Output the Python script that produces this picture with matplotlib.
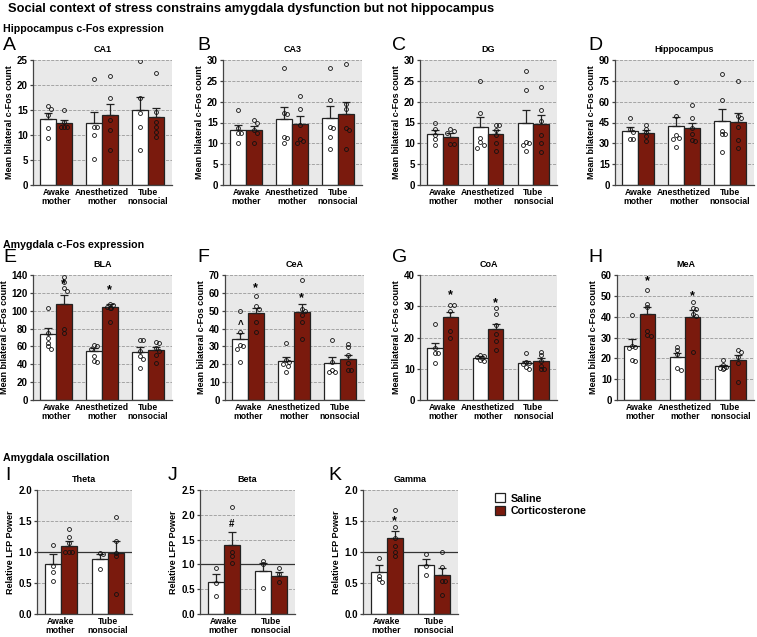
import matplotlib
matplotlib.use("Agg")
import matplotlib.pyplot as plt
from matplotlib.patches import Patch

plt.rcParams['font.family'] = ['Liberation Sans', 'DejaVu Sans']

W, H = 757, 637

# Gruppen / Beschriftungen
groups3 = ["Awake\nmother", "Anesthetized\nmother", "Tube\nnonsocial"]
groups2 = ["Awake\nmother", "Tube\nnonsocial"]
series_names = ["Saline", "Corticosterone"]
series_colors = ["white", "#7a1a0d"]

# order per group: saline, corticosterone
ca1_mean = [13.3, 12.5, 12.5, 14.1, 15.1, 13.6]
ca1_sem = [1.2, 0.6, 2.1, 2.1, 2.5, 1.9]
ca1_pts = [[15.8, 15.2, 14.0, 11.5, 9.5], [15.0, 12.6, 11.6, 11.6, 11.6],
           [21.2, 11.7, 11.7, 10.0, 5.3], [21.9, 17.5, 13.0, 11.0, 7.0],
           [24.9, 17.5, 14.5, 11.7, 7.0], [22.5, 14.7, 12.7, 11.7, 10.6, 9.7]]

ca3_mean = [13.2, 13.2, 15.9, 14.7, 16.0, 17.1]
ca3_sem = [1.2, 1.0, 2.7, 1.8, 2.9, 2.9]
ca3_pts = [[18.0, 13.6, 12.4, 12.4, 10.0], [15.5, 15.0, 13.2, 12.5, 10.0],
           [28.0, 17.4, 17.0, 11.6, 11.2, 10.0], [21.3, 18.3, 14.4, 11.0, 10.6, 10.2],
           [28.0, 20.3, 14.0, 13.8, 11.6, 8.7], [29.0, 19.4, 18.3, 13.8, 13.3, 8.7]]

dg_mean = [12.2, 11.6, 14.0, 12.2, 14.9, 14.6]
dg_sem = [1.0, 0.8, 2.4, 1.0, 3.2, 2.2]
dg_pts = [[15.0, 13.4, 12.0, 11.0, 9.6], [13.4, 12.9, 12.5, 9.8, 9.8],
          [25.0, 17.4, 11.2, 10.4, 9.7, 9.0], [14.5, 14.3, 13.1, 12.0, 10.2, 8.2],
          [27.3, 22.7, 10.4, 10.0, 9.6, 8.1], [23.5, 18.0, 15.4, 12.0, 10.0, 8.0]]

hip_mean = [38.6, 37.5, 42.4, 40.8, 46.0, 45.3]
hip_sem = [3.0, 2.1, 6.6, 4.2, 8.5, 6.7]
hip_pts = [[48.0, 40.0, 38.5, 33.0, 33.0], [43.5, 40.5, 38.0, 35.0, 32.0],
           [74.5, 49.5, 36.0, 34.0, 33.0, 27.6], [57.5, 48.0, 41.0, 37.0, 32.5, 32.0],
           [80.0, 61.0, 39.0, 36.5, 36.5, 23.5], [75.0, 50.0, 48.0, 42.0, 32.5, 27.0]]

bla_mean = [74.0, 107.0, 54.5, 104.0, 53.5, 56.0]
bla_sem = [6.5, 10.5, 3.5, 3.0, 5.5, 3.0]
bla_pts = [[103.5, 75.0, 70.0, 64.0, 60.0, 57.0], [138.0, 132.0, 125.0, 122.0, 80.0, 75.5],
           [62.0, 60.0, 57.0, 49.0, 44.0, 42.5], [108.0, 106.0, 104.5, 103.5, 103.0, 87.0],
           [67.0, 67.0, 55.0, 49.0, 46.0, 36.0], [65.0, 63.5, 58.0, 55.0, 50.0, 42.0]]

cea_mean = [34.0, 49.0, 22.0, 49.5, 21.0, 22.8]
cea_sem = [3.5, 2.5, 2.3, 4.0, 3.3, 2.2]
cea_pts = [[50.0, 38.0, 31.0, 30.0, 28.5, 21.5], [58.5, 52.5, 51.0, 43.5, 38.0],
           [32.0, 22.5, 21.5, 20.0, 19.0, 15.5], [67.0, 51.0, 50.0, 47.5, 43.5, 34.0],
           [33.5, 21.5, 17.0, 15.5, 15.5], [31.5, 29.5, 25.0, 20.5, 17.0, 17.0]]

coa_mean = [16.7, 26.5, 13.5, 22.7, 11.8, 12.4]
coa_sem = [1.6, 1.8, 0.5, 1.7, 0.8, 1.0]
coa_pts = [[24.3, 16.8, 15.2, 15.0, 12.0], [30.5, 30.5, 28.5, 22.0, 20.0],
           [14.5, 14.0, 13.8, 13.5, 12.8, 12.5], [29.3, 27.5, 24.0, 21.0, 19.0, 16.0],
           [15.0, 12.3, 12.0, 11.5, 10.5, 10.0], [15.5, 14.5, 12.5, 11.0, 10.0, 10.0]]

mea_mean = [26.0, 41.3, 20.8, 40.0, 16.1, 19.0]
mea_sem = [3.2, 3.2, 1.6, 3.0, 0.9, 2.4]
mea_pts = [[41.0, 26.0, 25.5, 25.0, 19.0, 18.5], [53.0, 46.0, 44.5, 33.0, 31.0, 30.5],
           [25.5, 24.0, 22.0, 15.5, 14.3], [47.0, 44.0, 43.5, 41.5, 40.5, 23.0],
           [19.4, 17.0, 16.0, 15.5, 15.3, 15.0], [24.0, 23.0, 20.5, 18.0, 8.7]]

theta_mean = [0.80, 1.10, 0.89, 0.98]
theta_sem = [0.17, 0.07, 0.08, 0.20]
theta_pts = [[1.12, 0.77, 0.68, 0.54], [1.37, 1.25, 1.15, 1.0, 1.0, 1.0],
             [0.99, 0.96, 0.72], [1.56, 1.18, 0.99, 0.93, 0.32]]

beta_mean = [0.65, 1.40, 0.87, 0.76]
beta_sem = [0.16, 0.25, 0.15, 0.09]
beta_pts = [[0.92, 0.62, 0.37], [2.15, 1.25, 1.17, 1.02],
            [1.07, 1.0, 0.52], [0.92, 0.80, 0.65]]

gamma_mean = [0.68, 1.23, 0.79, 0.63]
gamma_sem = [0.11, 0.11, 0.09, 0.12]
gamma_pts = [[0.90, 0.62, 0.57, 0.52], [1.67, 1.40, 1.22, 1.10, 1.0, 0.94],
             [0.96, 0.77, 0.63], [1.0, 0.76, 0.54, 0.53, 0.30]]

# (bar index, y, symbol)
bla_marks = [(1, 130, '*'), (3, 123, '*')]
cea_marks = [(0, 42, '^'), (1, 62.5, '*'), (3, 57, '*')]
coa_marks = [(1, 33.6, '*'), (3, 31, '*')]
mea_marks = [(1, 57, '*'), (3, 49.6, '*')]
beta_marks = [(1, 1.81, '#')]
gamma_marks = [(1, 1.50, '*')]


def box(l, t, r, b):
    return [l / W, 1 - b / H, (r - l) / W, (b - t) / H]


def spread(vals, ymax):
    # kleine Versatz fuer fast gleiche Werte
    xs = []
    last = None
    k = 0
    for v in sorted(vals, reverse=True):
        if last is not None and abs(v - last) < ymax * 0.025:
            k += 1
        else:
            k = 0
        last = v
        xs.append((v, [0, 0.07, -0.07, 0.035][k % 4]))
    return xs


def draw_panel(ax, labels, means, sems, pts, ymax, step, title, ylabel,
               marks=(), refline=False, ydec=0):
    n = len(labels)
    ax.set_facecolor('#e9e9e9')
    for i in range(len(means)):
        g, s = divmod(i, 2)
        x = g + (-0.17 if s == 0 else 0.17)
        ax.bar(x, means[i], width=0.34, color=series_colors[s],
               edgecolor='#222222', linewidth=0.9, zorder=2)
        ax.errorbar(x, means[i], yerr=[[0], [sems[i]]], fmt='none',
                    ecolor='#222222', elinewidth=0.9, capsize=3, capthick=0.9, zorder=3)
        for v, dx in spread(pts[i], ymax):
            ax.plot(x + dx, v, 'o', ms=2.8, mfc='none', mec='#111111', mew=0.6, zorder=4)
    for i, y, sym in marks:
        g, s = divmod(i, 2)
        x = g + (-0.17 if s == 0 else 0.17)
        if sym == '*':
            ax.text(x, y, sym, ha='center', va='center', fontsize=9, fontweight='bold', zorder=5)
        else:
            ax.text(x, y, sym, ha='center', va='center', fontsize=7, fontweight='bold', zorder=5)
    if refline:
        ax.axhline(1.0, color='#333333', lw=0.9, zorder=1.5)
    ax.set_xlim(-0.5, n - 1 + 0.52)
    ax.set_ylim(0, ymax)
    ticks = [k * step for k in range(int(round(ymax / step)) + 1)]
    ax.set_yticks(ticks)
    ax.set_yticklabels([('%.1f' % t) if ydec else ('%d' % t) for t in ticks],
                       fontsize=7, fontweight='bold')
    ax.set_xticks(range(n))
    ax.set_xticklabels(labels, fontsize=6.2, fontweight='bold', linespacing=0.95)
    ax.tick_params(axis='x', length=0, pad=2.5)
    ax.tick_params(axis='y', length=2.5, width=0.9, color='#444444', pad=1.2)
    ax.yaxis.grid(True, ls='--', color='#9a9a9a', lw=0.6)
    ax.set_axisbelow(True)
    for sp in ['top', 'right']:
        ax.spines[sp].set_visible(False)
    for sp in ['left', 'bottom']:
        ax.spines[sp].set_color('#444444')
        ax.spines[sp].set_linewidth(0.9)
    ax.set_ylabel(ylabel, fontsize=6.5, fontweight='bold', labelpad=2)
    ax.set_title(title, fontsize=6.5, fontweight='bold', pad=6)


fig = plt.figure(figsize=(W / 100, H / 100), dpi=100)

fig.text(8 / W, 1 - 9 / H, "Social context of stress constrains amygdala dysfunction but not hippocampus",
         fontsize=9.3, fontweight='bold', va='center')
fig.text(3 / W, 1 - 29 / H, "Hippocampus c-Fos expression", fontsize=7.7, fontweight='bold', va='center')
fig.text(3 / W, 1 - 245 / H, "Amygdala c-Fos expression", fontsize=7.7, fontweight='bold', va='center')
fig.text(3 / W, 1 - 458 / H, "Amygdala oscillation", fontsize=7.7, fontweight='bold', va='center')

ylab = "Mean bilateral c-Fos count"
lfp = "Relative LFP Power"

panels = [
    ("A", (3, 45), (33, 60, 172, 185), groups3, ca1_mean, ca1_sem, ca1_pts, 25, 5, "CA1", ylab, [], False, 0),
    ("B", (197, 45), (223, 60, 362, 185), groups3, ca3_mean, ca3_sem, ca3_pts, 30, 5, "CA3", ylab, [], False, 0),
    ("C", (392, 45), (420, 60, 557, 185), groups3, dg_mean, dg_sem, dg_pts, 30, 5, "DG", ylab, [], False, 0),
    ("D", (588, 45), (615, 60, 754, 185), groups3, hip_mean, hip_sem, hip_pts, 90, 15, "Hippocampus", ylab, [], False, 0),
    ("E", (3, 258), (33, 275, 172, 400), groups3, bla_mean, bla_sem, bla_pts, 140, 20, "BLA", ylab, bla_marks, False, 0),
    ("F", (197, 258), (225, 275, 364, 400), groups3, cea_mean, cea_sem, cea_pts, 70, 10, "CeA", ylab, cea_marks, False, 0),
    ("G", (392, 258), (420, 275, 557, 400), groups3, coa_mean, coa_sem, coa_pts, 40, 10, "CoA", ylab, coa_marks, False, 0),
    ("H", (588, 258), (617, 275, 754, 400), groups3, mea_mean, mea_sem, mea_pts, 60, 10, "MeA", ylab, mea_marks, False, 0),
    ("I", (5, 476), (37, 490, 132, 614), groups2, theta_mean, theta_sem, theta_pts, 2.0, 0.5, "Theta", lfp, [], True, 1),
    ("J", (168, 476), (200, 490, 295, 614), groups2, beta_mean, beta_sem, beta_pts, 2.5, 0.5, "Beta", lfp, beta_marks, True, 1),
    ("K", (328, 476), (363, 490, 458, 614), groups2, gamma_mean, gamma_sem, gamma_pts, 2.0, 0.5, "Gamma", lfp, gamma_marks, True, 1),
]

for letter, (lx, ly), bx, labels, m, s, p, ymax, step, title, yl, marks, ref, dec in panels:
    ax = fig.add_axes(box(*bx))
    draw_panel(ax, labels, m, s, p, ymax, step, title, yl, marks, ref, dec)
    fig.text(lx / W, 1 - ly / H, letter, fontsize=14, va='center', ha='left')

handles = [Patch(facecolor=c, edgecolor='#222222', linewidth=0.9) for c in series_colors]
fig.legend(handles, series_names, loc='upper left', bbox_to_anchor=(488 / W, 1 - 486 / H),
           frameon=False, prop={'size': 7.7, 'weight': 'bold'}, handlelength=0.9,
           handleheight=0.9, handletextpad=0.5, labelspacing=0.25, borderpad=0.2)

fig.savefig("out.png", dpi=100)
